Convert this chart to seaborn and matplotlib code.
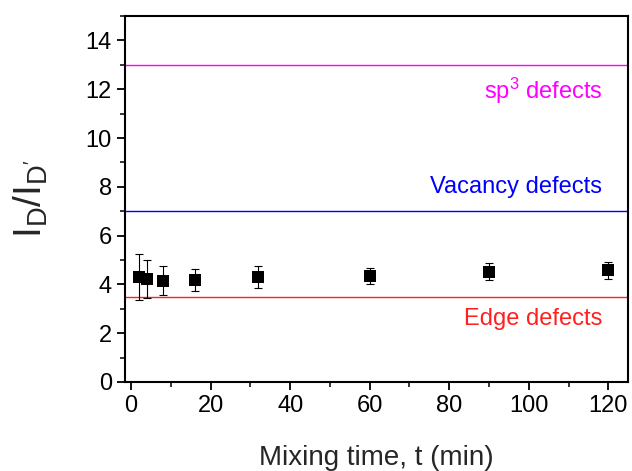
import numpy as np
import pandas as pd
import matplotlib
matplotlib.use("Agg")
import matplotlib.pyplot as plt
import seaborn as sns
from matplotlib.ticker import MultipleLocator

# data
mix_time = [2, 4, 8, 16, 32, 60, 90, 120]
ratio = [4.31, 4.24, 4.15, 4.17, 4.31, 4.34, 4.52, 4.58]
ratio_err = [0.93, 0.78, 0.60, 0.45, 0.44, 0.33, 0.34, 0.35]

ref_levels = [13, 7, 3.5]
ref_labels = [r"sp$^3$ defects", "Vacancy defects", "Edge defects"]
ref_colors = ["#ff00ff", "#0000ff", "#ff2020"]
ref_text_y = [11.95, 7.98, 2.58]

df = pd.DataFrame({"t": mix_time, "ratio": ratio, "err": ratio_err})

sns.set_style("ticks")
plt.rcParams["font.family"] = ["Liberation Sans", "DejaVu Sans"]
plt.rcParams["mathtext.fontset"] = "custom"
plt.rcParams["mathtext.rm"] = "Liberation Sans"
plt.rcParams["mathtext.it"] = "Liberation Sans"

fig = plt.figure(figsize=(6.32, 4.71), dpi=100)
ax = fig.add_axes([0.198, 0.189, 0.796, 0.777])

# reference lines for defect types
for lvl, lab, col, ty in zip(ref_levels, ref_labels, ref_colors, ref_text_y):
    ax.axhline(lvl, color=col, linewidth=1.0, zorder=1)
    ax.text(118.5, ty, lab, color=col, fontsize=17, ha="right", va="center")

ax.errorbar(df["t"], df["ratio"], yerr=df["err"], fmt="none", ecolor="black",
            elinewidth=0.8, capsize=3, capthick=0.8, zorder=2)
sns.scatterplot(data=df, x="t", y="ratio", marker="s", s=75, color="black",
                edgecolor="black", linewidth=0, ax=ax, zorder=3)

ax.set_xlim(-1.5, 125)
ax.set_ylim(0, 15)
ax.xaxis.set_major_locator(MultipleLocator(20))
ax.xaxis.set_minor_locator(MultipleLocator(10))
ax.yaxis.set_major_locator(MultipleLocator(2))
ax.yaxis.set_minor_locator(MultipleLocator(1))
ax.tick_params(which="major", direction="out", length=6, width=1.3, labelsize=17,
               colors="black")
ax.tick_params(which="minor", direction="out", length=3.5, width=1.3)
for sp in ax.spines.values():
    sp.set_visible(True)
    sp.set_linewidth(1.5)
    sp.set_color("black")

ax.set_xlabel("Mixing time, t (min)", fontsize=20, labelpad=20)
ax.set_ylabel(r"$\mathregular{I_D/I_{D'}}$", fontsize=28)
ax.yaxis.set_label_coords(-0.15, 0.5)

fig.savefig("out.png", dpi=100)
